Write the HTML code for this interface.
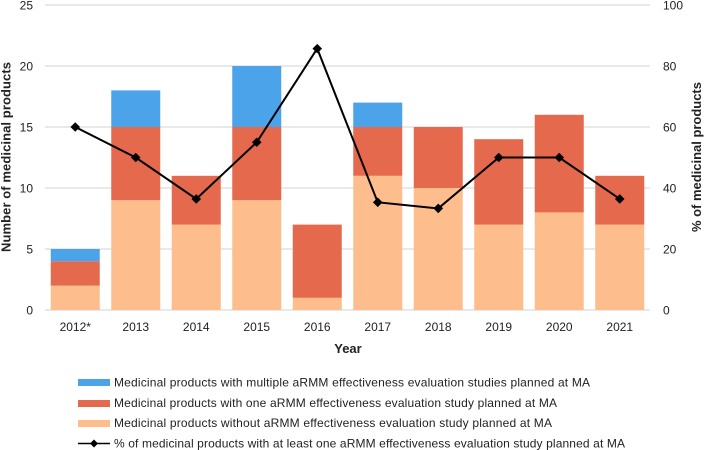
<!DOCTYPE html>
<html>
<head>
<meta charset="utf-8">
<title>aRMM effectiveness evaluation chart</title>
<style>
html,body{margin:0;padding:0;background:#fff;width:705px;height:450px;overflow:hidden}
svg{display:block}
text{font-family:"Liberation Sans",sans-serif;fill:#222}
</style>
</head>
<body>
<svg id="chart" width="705" height="450" viewBox="0 0 705 450">
  <g id="grid"></g>
  <g id="bars"></g>
  <g id="line"></g>
  <g id="ticks"></g>
  <text x="10.5" y="157" transform="rotate(-90 10.5 157)" text-anchor="middle" font-size="13" font-weight="700" textLength="190" lengthAdjust="spacing">Number of medicinal products</text>
  <text x="701" y="157" transform="rotate(-90 701 157)" text-anchor="middle" font-size="13" font-weight="700" textLength="150" lengthAdjust="spacing">% of medicinal products</text>
  <text x="348" y="353" text-anchor="middle" font-size="13" font-weight="700">Year</text>
  <g>
    <rect x="78" y="379" width="32" height="7" fill="#4ba3ea"></rect>
    <text x="114" y="386.5" font-size="12" textLength="476" lengthAdjust="spacing">Medicinal products with multiple aRMM effectiveness evaluation studies planned at MA</text>
    <rect x="78" y="400" width="32" height="7" fill="#e5694d"></rect>
    <text x="114" y="407" font-size="12" textLength="443" lengthAdjust="spacing">Medicinal products with one aRMM effectiveness evaluation study planned at MA</text>
    <rect x="78" y="420" width="32" height="7" fill="#fdbd8c"></rect>
    <text x="114" y="427" font-size="12" textLength="438" lengthAdjust="spacing">Medicinal products without aRMM effectiveness evaluation study planned at MA</text>
    <line x1="78" y1="443.5" x2="110" y2="443.5" stroke="#000" stroke-width="1.6"></line>
    <polygon points="94,439.5 98,443.5 94,447.5 90,443.5" fill="#000"></polygon>
    <text x="114" y="447.5" font-size="12" textLength="511" lengthAdjust="spacing">% of medicinal products with at least one aRMM effectiveness evaluation study planned at MA</text>
  </g>
</svg>
<script>
const categories = ['2012*','2013','2014','2015','2016','2017','2018','2019','2020','2021'];
const withoutStudy = [2,9,7,9,1,11,10,7,8,7];
const oneStudy = [2,6,4,6,6,4,5,7,8,4];
const multipleStudies = [1,3,0,5,0,2,0,0,0,0];
const percentWithStudy = [60,50,36.4,55,85.7,35.3,33.3,50,50,36.4];
const leftTicks = [0,5,10,15,20,25];
const rightTicks = [0,20,40,60,80,100];

const NS = 'http://www.w3.org/2000/svg';
const plotLeft = 45, plotRight = 650, plotTop = 5, plotBottom = 310;
const band = (plotRight - plotLeft) / categories.length;
const barWidth = 49;
const xCenter = i => plotLeft + band * (i + 0.5);
const yLeft = v => plotBottom - (v / 25) * (plotBottom - plotTop);
const yRight = v => plotBottom - (v / 100) * (plotBottom - plotTop);
function make(tag, attrs, parent) {
  const el = document.createElementNS(NS, tag);
  for (const k in attrs) el.setAttribute(k, attrs[k]);
  parent.appendChild(el);
  return el;
}
const gridG = document.getElementById('grid');
const barsG = document.getElementById('bars');
const lineG = document.getElementById('line');
const ticksG = document.getElementById('ticks');

leftTicks.forEach(t => {
  const l = make('line', {x1: plotLeft, x2: plotRight, y1: yLeft(t), y2: yLeft(t), stroke: '#e2e2e2', 'stroke-width': 1.5}, gridG);
  
  
  const lab = make('text', {x: 33, y: yLeft(t) + 4.5, 'text-anchor': 'end', 'font-size': 12}, ticksG);
  lab.textContent = t;
  
  
});
rightTicks.forEach(t => {
  const lab = make('text', {x: 663, y: yRight(t) + 4.5, 'font-size': 12}, ticksG);
  lab.textContent = t;
  
  
});
categories.forEach((c, i) => {
  const lab = make('text', {x: xCenter(i), y: 331, 'text-anchor': 'middle', 'font-size': 12}, ticksG);
  lab.textContent = c;
  
  
  let base = 0;
  [[withoutStudy, '#fdbd8c', 'bar-without-study'], [oneStudy, '#e5694d', 'bar-one-study'], [multipleStudies, '#4ba3ea', 'bar-multiple-studies']].forEach(s => {
    const v = s[0][i];
    if (v > 0) {
      const r = make('rect', {x: xCenter(i) - barWidth / 2, y: yLeft(base + v), width: barWidth, height: yLeft(base) - yLeft(base + v), fill: s[1]}, barsG);
      
      
    }
    base += v;
  });
});
const path = make('polyline', {points: percentWithStudy.map((v, i) => xCenter(i) + ',' + yRight(v)).join(' '), fill: 'none', stroke: '#000', 'stroke-width': 2}, lineG);


percentWithStudy.forEach((v, i) => {
  const x = xCenter(i), y = yRight(v);
  const m = make('polygon', {points: [[x, y - 4.8], [x + 4.8, y], [x, y + 4.8], [x - 4.8, y]].join(' '), fill: '#000'}, lineG);
  
  
});
</script>
</body>
</html>
